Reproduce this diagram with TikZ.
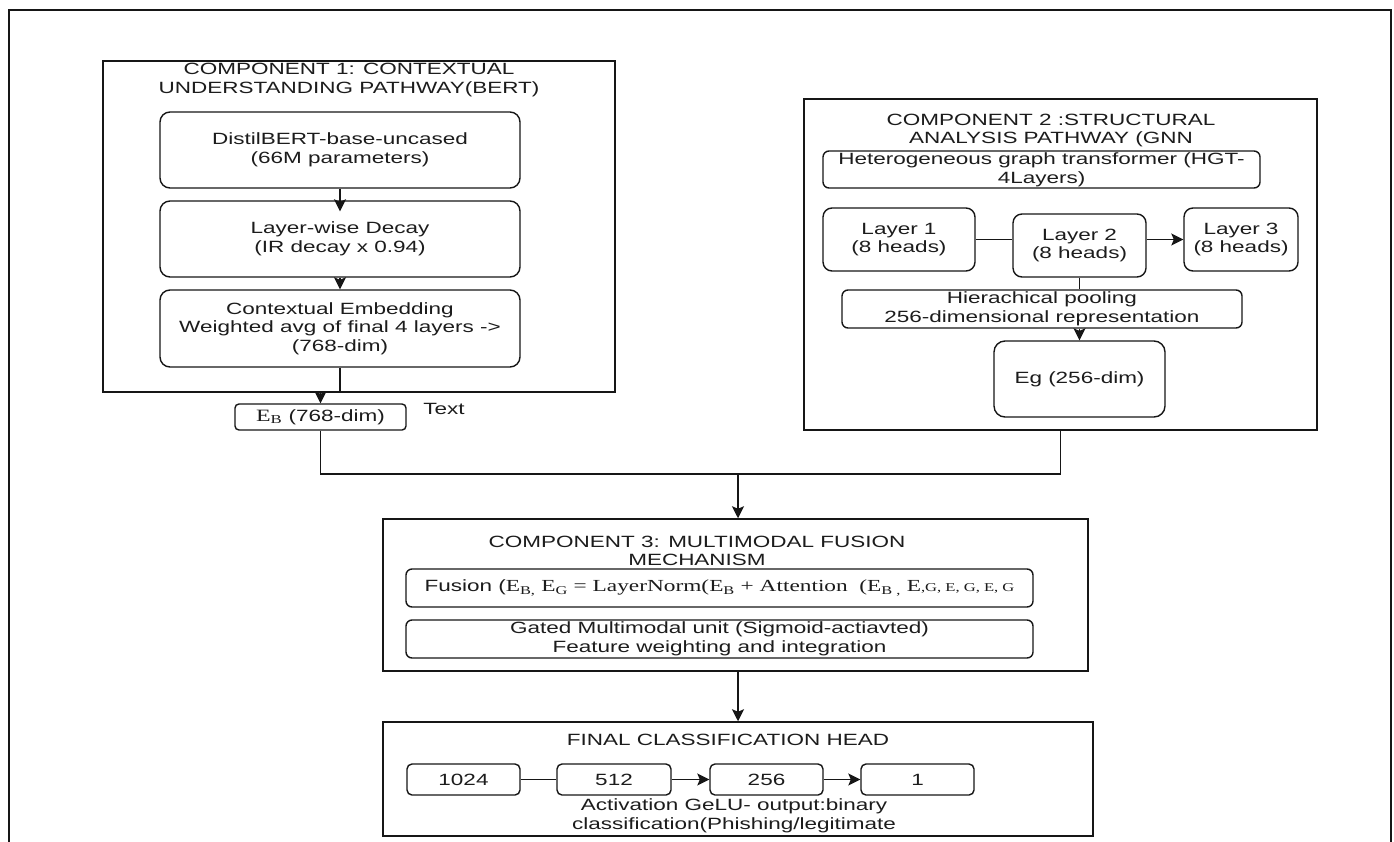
\documentclass[tikz,border=0pt]{standalone}
\usepackage{fontspec}
\setmainfont{Liberation Sans}[FakeStretch=1.38]
\newfontfamily\tnr{Liberation Serif}[FakeStretch=1.38]
\usetikzlibrary{arrows.meta,calc}
\definecolor{ink}{RGB}{22,22,22}
\definecolor{txt}{RGB}{28,28,28}
\tikzset{
  every node/.style={font=\fontsize{16.3}{18.6}\selectfont, text=txt},
  frame/.style={draw=ink, line width=1.5pt, inner sep=0pt},
  rbox/.style={draw=ink, line width=1.4pt, rounded corners=10pt, inner sep=0pt, align=center},
  conn/.style={draw=ink, line width=1.4pt},
  arr/.style={conn, -{Stealth[length=12pt,width=12pt,inset=2.5pt]}},
  lbl/.style={align=center, inner sep=0pt}
}
\begin{document}
\begin{tikzpicture}[x=1pt,y=-1pt]
\useasboundingbox (0,0) rectangle (1394,841);
\fill[white] (0,0) rectangle (1394,841);
% outer frame
\draw[conn] (9,845) -- (9,10) -- (1391,10) -- (1391,845);

% ---------- Component 1 ----------
\node[frame, minimum width=512pt, minimum height=331pt] (c1) at (359,226.5) {};
\node[lbl] (t1) at (349,80) {COMPONENT 1: CONTEXTUAL\\UNDERSTANDING PATHWAY(BERT)};
\node[rbox, minimum width=360pt, minimum height=76pt] (d1) at (340,150) {DistilBERT-base-uncased\\(66M parameters)};
\node[rbox, minimum width=360pt, minimum height=76pt] (d2) at (340,239) {Layer-wise Decay\\(IR decay x 0.94)};
\node[rbox, minimum width=360pt, minimum height=77pt] (d3) at (340,328.5) {Contextual Embedding\\Weighted avg of final 4 layers ->\\(768-dim)};
\node[rbox, rounded corners=4pt, minimum width=171pt, minimum height=26pt] (eb) at (320.5,417) {{\tnr\fontsize{17.3}{18}\selectfont E\textsubscript{B}} (768-dim)};
\node[lbl] (txtl) at (444,409) {Text};

\draw[arr] (d1.south) -- ($(d2.north)+(0,11)$);
\draw[arr] (d2.south) -- (d3.north);
\draw[conn] (d3.south) -- (d3.south |- c1.south);
\draw[arr] (eb.north |- c1.south) -- (eb.north);

% ---------- Component 2 ----------
\node[frame, minimum width=513pt, minimum height=331pt] (c2) at (1060.5,264.5) {};
\node[lbl] (t2) at (1051,130.5) {COMPONENT 2 :STRUCTURAL\\ANALYSIS PATHWAY (GNN};
\node[rbox, rounded corners=6pt, minimum width=437pt, minimum height=37pt] (hgt) at (1041.5,169.5) {Heterogeneous graph transformer (HGT-\\4Layers)};
\node[rbox, rounded corners=9pt, minimum width=152pt, minimum height=63pt] (l1) at (899,239.5) {Layer 1\\(8 heads)};
\node[rbox, rounded corners=9pt, minimum width=133pt, minimum height=63pt] (l2) at (1079.5,245.5) {Layer 2\\(8 heads)};
\node[rbox, rounded corners=9pt, minimum width=114pt, minimum height=63pt] (l3) at (1241,239.5) {Layer 3\\(8 heads)};
\node[rbox, rounded corners=6pt, minimum width=400pt, minimum height=38pt] (hp) at (1042,309) {Hierachical pooling\\256-dimensional representation};
\node[rbox, rounded corners=11pt, minimum width=171pt, minimum height=76pt] (eg) at (1079.5,379) {Eg (256-dim)};

\draw[conn] (l1.east) -- (l1.east -| l2.west);
\draw[arr] (l3.west -| l2.east) -- (l3.west);
\draw[conn] (l2.south) -- (l2.south |- hp.north);
\draw[arr] (eg.north |- hp.south) -- (eg.north);

% ---------- merge ----------
\coordinate (mid) at (738,474);
\draw[conn] (eb.south) |- (mid) -| (c2.south);

% ---------- Component 3 ----------
\node[frame, minimum width=705pt, minimum height=152pt] (c3) at (735.5,595) {};
\draw[arr] (mid) -- (mid |- c3.north);
\node[lbl] (t3) at (697,551) {COMPONENT 3: MULTIMODAL FUSION\\MECHANISM};
\node[rbox, rounded corners=6pt, minimum width=627pt, minimum height=38pt] (fu) at (719.5,588)
  {Fusion ({\tnr\fontsize{16.9}{18}\selectfont E\textsubscript{B,} E\textsubscript{G} = LayerNorm(E\textsubscript{B} + Attention~ (E\textsubscript{B~,} E{\fontsize{12}{12}\selectfont,G, E, G, E, G}}};
\node[rbox, rounded corners=6pt, minimum width=627pt, minimum height=38pt] (ga) at (719.5,639)
  {Gated Multimodal unit (Sigmoid-actiavted)\\Feature weighting and integration};

% ---------- Final head ----------
\node[frame, minimum width=710pt, minimum height=114pt] (fh) at (738,779) {};
\draw[arr] (mid |- c3.south) -- (mid |- fh.north);
\node[lbl] (t4) at (728,740) {FINAL CLASSIFICATION HEAD};
\node[rbox, rounded corners=5pt, minimum width=113pt, minimum height=31pt] (b1) at (463.5,779.5) {1024};
\node[rbox, rounded corners=5pt, minimum width=114pt, minimum height=31pt] (b2) at (614,779.5) {512};
\node[rbox, rounded corners=5pt, minimum width=113pt, minimum height=31pt] (b3) at (766.5,779.5) {256};
\node[rbox, rounded corners=5pt, minimum width=113pt, minimum height=31pt] (b4) at (917.5,779.5) {1};
\draw[conn] (b1) -- (b2);
\draw[arr] (b2) -- (b3);
\draw[arr] (b3) -- (b4);
\node[lbl] (act) at (734,816) {Activation GeLU- output:binary\\classification(Phishing/legitimate};
\end{tikzpicture}
\end{document}
